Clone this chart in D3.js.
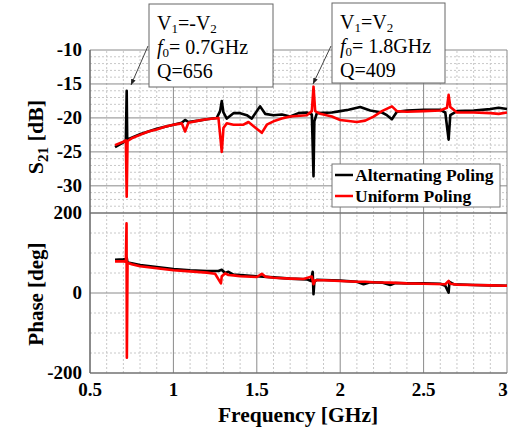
<!DOCTYPE html>
<html>
<head>
<meta charset="utf-8">
<script src="https://cdn.jsdelivr.net/npm/d3@7"></script>
<style>
  body { margin: 0; background: #fff; }
  svg { display: block; }
</style>
</head>
<body>
<div id="chart"></div>
<script>
// S21 magnitude [dB], alternating poling (black)
const altS21Freq = [0.65, 0.70, 0.715, 0.72, 0.723, 0.75, 0.80, 0.85, 0.90, 0.95, 1.00, 1.05, 1.07, 1.09, 1.15, 1.20, 1.26, 1.28, 1.29, 1.30, 1.32, 1.36, 1.40, 1.44, 1.47, 1.50, 1.52, 1.55, 1.60, 1.65, 1.70, 1.75, 1.80, 1.83, 1.84, 1.845, 1.86, 1.95, 2.00, 2.05, 2.12, 2.18, 2.25, 2.28, 2.31, 2.34, 2.40, 2.50, 2.60, 2.63, 2.65, 2.66, 2.70, 2.80, 2.90, 2.95, 3.00];
const altS21 = [-24.3, -23.6, -23.3, -16.0, -23.2, -22.9, -22.4, -22.0, -21.6, -21.3, -21.0, -20.7, -20.3, -20.6, -20.4, -20.2, -20.0, -19.0, -17.5, -19.2, -20.1, -19.3, -19.3, -19.6, -20.1, -19.0, -18.3, -19.4, -19.6, -19.5, -19.8, -19.3, -19.2, -19.5, -28.6, -20.5, -19.3, -19.2, -19.0, -18.8, -18.4, -18.9, -19.2, -19.6, -20.2, -19.1, -18.9, -18.8, -18.8, -19.2, -23.2, -19.6, -19.0, -18.9, -18.7, -18.5, -18.7];

// S21 magnitude [dB], uniform poling (red)
const uniS21Freq = [0.65, 0.70, 0.715, 0.72, 0.725, 0.75, 0.80, 0.85, 0.90, 0.95, 1.00, 1.05, 1.07, 1.09, 1.15, 1.20, 1.27, 1.29, 1.30, 1.32, 1.36, 1.42, 1.45, 1.49, 1.53, 1.56, 1.60, 1.65, 1.70, 1.80, 1.83, 1.84, 1.85, 1.88, 1.95, 2.00, 2.10, 2.15, 2.20, 2.25, 2.31, 2.34, 2.40, 2.50, 2.60, 2.64, 2.65, 2.66, 2.70, 2.80, 2.90, 2.95, 3.00];
const uniS21 = [-24.0, -23.5, -23.3, -31.6, -23.4, -23.0, -22.5, -22.0, -21.7, -21.3, -21.0, -20.8, -22.0, -20.7, -20.4, -20.2, -20.0, -25.0, -21.5, -20.8, -21.0, -21.0, -20.6, -21.4, -22.2, -21.0, -20.5, -20.1, -19.8, -19.6, -19.0, -15.4, -19.0, -19.4, -19.8, -20.3, -20.6, -20.4, -19.8, -19.0, -18.3, -19.0, -19.1, -19.0, -18.9, -18.5, -16.6, -18.4, -19.2, -19.2, -19.3, -19.4, -19.2];

// Phase [deg], alternating poling (black)
const altPhFreq = [0.65, 0.70, 0.715, 0.72, 0.725, 0.75, 0.80, 0.90, 1.00, 1.10, 1.20, 1.27, 1.29, 1.31, 1.33, 1.36, 1.40, 1.50, 1.60, 1.70, 1.80, 1.825, 1.835, 1.84, 1.845, 1.86, 1.95, 2.00, 2.10, 2.14, 2.18, 2.25, 2.30, 2.33, 2.40, 2.50, 2.60, 2.63, 2.65, 2.655, 2.68, 2.80, 2.90, 3.00];
const altPh = [83, 84, 85, 88, 76, 74, 70, 65, 60, 57, 55, 55, 58, 50, 53, 46, 45, 42, 39, 36, 34, 30, 53, -3, 28, 33, 32, 31, 28, 22, 27, 26, 20, 25, 24, 24, 23, 18, 1, 28, 22, 20, 19, 18];

// Phase [deg], uniform poling (red)
const uniPhFreq = [0.65, 0.70, 0.715, 0.719, 0.721, 0.725, 0.75, 0.80, 0.90, 1.00, 1.10, 1.20, 1.25, 1.285, 1.29, 1.31, 1.33, 1.36, 1.40, 1.50, 1.53, 1.55, 1.60, 1.70, 1.78, 1.83, 1.84, 1.85, 1.90, 2.00, 2.10, 2.15, 2.20, 2.30, 2.40, 2.50, 2.63, 2.65, 2.66, 2.70, 2.80, 2.90, 3.00];
const uniPh = [79, 79, 78, 174, -162, 76, 72, 67, 62, 57, 54, 51, 48, 24, 42, 49, 45, 44, 42, 40, 48, 41, 38, 36, 35, 41, 22, 32, 32, 30, 28, 28, 27, 26, 24, 23, 22, 30, 23, 21, 20, 19, 18];

const xMajor = [0.5, 1, 1.5, 2, 2.5, 3];
const xMinor = [0.6, 0.7, 0.8, 0.9, 1.1, 1.2, 1.3, 1.4, 1.6, 1.7, 1.8, 1.9, 2.1, 2.2, 2.3, 2.4, 2.6, 2.7, 2.8, 2.9];
const s21Major = [-10, -15, -20, -25, -30];
const s21Minor = [-11, -12, -13, -14, -16, -17, -18, -19, -21, -22, -23, -24, -26, -27, -28, -29, -31, -32, -33];
const phMajor = [200, 0, -200];
const phMinor = [150, 100, 50, -50, -100, -150];

const width = 510, height = 434;
const serif = "'Liberation Serif', 'Times New Roman', Times, serif";
const svg = d3.select("#chart").append("svg")
    .attr("width", width)
    .attr("height", height)
    .attr("font-family", serif);

const x = d3.scaleLinear([0.5, 3], [90, 507]);
const yTop = d3.scaleLinear([-34, -10], [213, 50]);
const yBot = d3.scaleLinear([-200, 200], [373, 213]);

// grid for a panel
function drawGrid(y, major, minor) {
    const [y0, y1] = y.range();
    const g = svg.append("g");
    g.selectAll(".vmin").data(xMinor).enter().append("line")
        .attr("x1", d => x(d)).attr("x2", d => x(d))
        .attr("y1", y0).attr("y2", y1)
        .attr("stroke", "#c8c8c8").attr("stroke-dasharray", "2,2").attr("stroke-width", 1);
    g.selectAll(".hmin").data(minor).enter().append("line")
        .attr("x1", 90).attr("x2", 507)
        .attr("y1", d => y(d)).attr("y2", d => y(d))
        .attr("stroke", "#c8c8c8").attr("stroke-dasharray", "2,2").attr("stroke-width", 1);
    g.selectAll(".vmaj").data(xMajor).enter().append("line")
        .attr("x1", d => x(d)).attr("x2", d => x(d))
        .attr("y1", y0).attr("y2", y1)
        .attr("stroke", "#8a8a8a").attr("stroke-width", 1);
    g.selectAll(".hmaj").data(major).enter().append("line")
        .attr("x1", 90).attr("x2", 507)
        .attr("y1", d => y(d)).attr("y2", d => y(d))
        .attr("stroke", "#8a8a8a").attr("stroke-width", 1);
    g.append("line").attr("x1", 90).attr("x2", 90).attr("y1", y0).attr("y2", y1)
        .attr("stroke", "#666").attr("stroke-width", 1.2);
    g.selectAll(".ylab").data(major).enter().append("text")
        .attr("x", 82).attr("y", d => y(d) + 6)
        .attr("text-anchor", "end")
        .attr("font-size", 19).attr("font-weight", "bold")
        .text(d => d);
}

drawGrid(yTop, s21Major, s21Minor);
drawGrid(yBot, phMajor, phMinor);
svg.append("line").attr("x1", 90).attr("x2", 507).attr("y1", 213).attr("y2", 213)
    .attr("stroke", "#666").attr("stroke-width", 1.2);
svg.append("line").attr("x1", 90).attr("x2", 507).attr("y1", 373).attr("y2", 373)
    .attr("stroke", "#666").attr("stroke-width", 1.2);

// x tick labels (last one kept inside the window)
svg.selectAll(".xlab").data(xMajor).enter().append("text")
    .attr("x", d => Math.min(x(d), 503)).attr("y", 396)
    .attr("text-anchor", "middle")
    .attr("font-size", 19).attr("font-weight", "bold")
    .text(d => d);

// curves
function drawCurve(freq, vals, y, color) {
    const pts = freq.map((f, i) => [f, vals[i]]);
    svg.append("path")
        .datum(pts)
        .attr("fill", "none")
        .attr("stroke", color)
        .attr("stroke-width", 2.6)
        .attr("stroke-linejoin", "round")
        .attr("d", d3.line().x(d => x(d[0])).y(d => y(d[1])));
}
drawCurve(altS21Freq, altS21, yTop, "#000");
drawCurve(uniS21Freq, uniS21, yTop, "#ff0000");
drawCurve(altPhFreq, altPh, yBot, "#000");
drawCurve(uniPhFreq, uniPh, yBot, "#ff0000");

// axis titles
const s21Title = svg.append("text")
    .attr("transform", "translate(43,137) rotate(-90)")
    .attr("text-anchor", "middle")
    .attr("font-size", 22).attr("font-weight", "bold");
s21Title.append("tspan").text("S");
s21Title.append("tspan").attr("font-size", 15).attr("dy", 5).text("21");
s21Title.append("tspan").attr("dy", -5).text(" [dB]");

svg.append("text")
    .attr("transform", "translate(43,294) rotate(-90)")
    .attr("text-anchor", "middle")
    .attr("font-size", 21).attr("font-weight", "bold")
    .text("Phase [deg]");

svg.append("text")
    .attr("x", 298).attr("y", 422)
    .attr("text-anchor", "middle")
    .attr("font-size", 21.5).attr("font-weight", "bold")
    .text("Frequency [GHz]");

// legend
const legend = svg.append("g");
legend.append("rect").attr("x", 332).attr("y", 164).attr("width", 168).attr("height", 43)
    .attr("fill", "#fff").attr("stroke", "#777").attr("stroke-width", 1);
const legendItems = [["Alternating Poling", "#000"], ["Uniform Poling", "#ff0000"]];
legendItems.forEach(([label, color], i) => {
    const ly = 175 + i * 21;
    legend.append("line").attr("x1", 335).attr("x2", 353).attr("y1", ly).attr("y2", ly)
        .attr("stroke", color).attr("stroke-width", 2.5);
    legend.append("text").attr("x", 355).attr("y", ly + 6)
        .attr("font-size", 17.5).attr("font-weight", "bold")
        .text(label);
});

// annotation boxes with arrows
svg.append("defs").append("marker")
    .attr("id", "arrow")
    .attr("viewBox", "0 -5 10 10")
    .attr("refX", 10).attr("refY", 0)
    .attr("markerWidth", 6).attr("markerHeight", 6)
    .attr("orient", "auto")
    .append("path").attr("d", "M0,-4L10,0L0,4").attr("fill", "#222");

function annotate(bx, by, bw, bh, lines, ax1, ay1, ax2, ay2) {
    svg.append("line").attr("x1", ax1).attr("y1", ay1).attr("x2", ax2).attr("y2", ay2)
        .attr("stroke", "#444").attr("stroke-width", 1).attr("marker-end", "url(#arrow)");
    svg.append("rect").attr("x", bx).attr("y", by).attr("width", bw).attr("height", bh)
        .attr("fill", "#fff").attr("stroke", "#666").attr("stroke-width", 1);
    lines.forEach((parts, i) => {
        const t = svg.append("text").attr("x", bx + 8).attr("y", by + 26 + i * 24)
            .attr("font-size", 20);
        parts.forEach(p => {
            const s = t.append("tspan").text(p.t);
            if (p.sub) s.attr("font-size", 13).attr("dy", 3);
            if (p.up) s.attr("dy", -3);
            if (p.it) s.attr("font-style", "italic");
        });
    });
}

annotate(149, 4, 124, 83, [
    [{t: "V"}, {t: "1", sub: true}, {t: "=-V", up: true}, {t: "2", sub: true}],
    [{t: "f", it: true}, {t: "0", sub: true}, {t: "= 0.7GHz", up: true}],
    [{t: "Q=656"}]
], 148, 46, 131, 85);

annotate(332, 3, 113, 80, [
    [{t: "V"}, {t: "1", sub: true}, {t: "=V", up: true}, {t: "2", sub: true}],
    [{t: "f", it: true}, {t: "0", sub: true}, {t: "= 1.8GHz", up: true}],
    [{t: "Q=409"}]
], 331, 46, 313, 84);
</script>
</body>
</html>
